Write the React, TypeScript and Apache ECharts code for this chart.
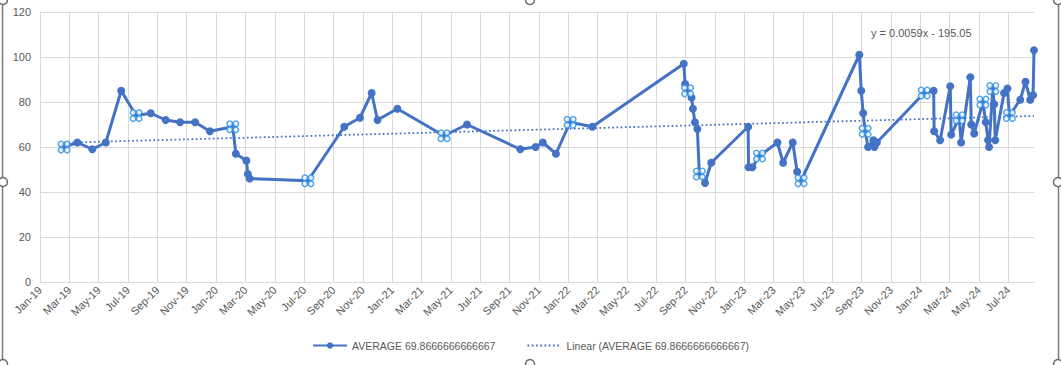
import { useEffect, useRef } from 'react';
import * as echarts from 'echarts';

const dates = [
  '2019-02-19', '2019-03-18', '2019-04-18', '2019-05-16', '2019-06-17', '2019-07-18', '2019-08-18', '2019-09-18',
  '2019-10-18', '2019-11-18', '2019-12-19', '2020-02-05', '2020-02-11', '2020-03-03', '2020-03-06', '2020-03-10',
  '2020-07-09', '2020-09-23', '2020-10-26', '2020-11-19', '2020-12-01', '2021-01-12', '2021-04-17', '2021-06-04',
  '2021-09-23', '2021-10-25', '2021-11-09', '2021-12-06', '2022-01-05', '2022-02-19', '2022-08-28', '2022-08-31',
  '2022-09-05', '2022-09-13', '2022-09-16', '2022-09-20', '2022-09-25', '2022-09-29', '2022-10-11', '2022-10-24',
  '2023-01-09', '2023-01-10', '2023-01-18', '2023-02-02', '2023-03-09', '2023-03-21', '2023-04-10', '2023-04-19',
  '2023-04-27', '2023-08-27', '2023-08-31', '2023-09-04', '2023-09-08', '2023-09-14', '2023-09-25', '2023-09-27',
  '2023-10-02', '2024-01-09', '2024-01-29', '2024-01-30', '2024-02-11', '2024-03-02', '2024-03-04', '2024-03-21',
  '2024-03-25', '2024-04-13', '2024-04-15', '2024-04-21', '2024-05-09', '2024-05-15', '2024-05-20', '2024-05-22',
  '2024-05-30', '2024-06-02', '2024-06-04', '2024-06-22', '2024-06-29', '2024-07-03', '2024-07-26', '2024-08-06',
  '2024-08-16', '2024-08-22', '2024-08-24',
];

const values = [
  60, 62, 59, 62, 85, 74, 75, 72,
  71, 71, 67, 69, 57, 54, 48, 46,
  45, 69, 73, 84, 72, 77, 65, 70,
  59, 60, 62, 57, 71, 69, 97, 88,
  85, 82, 77, 71, 68, 48, 44, 53,
  69, 51, 51, 56, 62, 53, 62, 49,
  45, 101, 85, 75, 67, 60, 63, 60,
  62, 84, 85, 67, 63, 87, 65.5, 73,
  62, 91, 70, 66, 80, 71, 63, 60,
  86, 79, 63, 84, 86, 74, 81, 89,
  81, 83, 103,
];

// points shown with Excel's selection handles
const selectedDates = [
  '2019-02-19', '2019-07-18', '2020-02-05', '2020-07-09', '2021-04-17', '2022-01-05', '2022-09-05', '2022-09-29',
  '2023-02-02', '2023-04-27', '2023-09-08', '2024-01-09', '2024-03-21', '2024-05-09', '2024-05-30', '2024-07-03',
];

const monthNames = ['Jan', 'Feb', 'Mar', 'Apr', 'May', 'Jun', 'Jul', 'Aug', 'Sep', 'Oct', 'Nov', 'Dec'];
const trendStartValue = 61.9;
const trendEndValue = 73.8;
const seriesName = 'AVERAGE 69.8666666666667';
const trendName = 'Linear (AVERAGE 69.8666666666667)';
const trendLabel = 'y = 0.0059x - 195.05';

function toMonthCoord(s: string): number {
  const [y, m, d] = s.split('-').map(Number);
  const dim = new Date(Date.UTC(y, m, 0)).getUTCDate();
  return (y - 2019) * 12 + (m - 1) + (d - 1) / dim;
}

const FONT = 'Liberation Sans';
const BLUE = '#4472C4';
const GREY_TEXT = '#595959';

export default function App() {
  const ref = useRef<HTMLDivElement>(null);
  useEffect(() => {
    if (!ref.current) return;
    const chart = echarts.init(ref.current, null, { renderer: 'svg' });
    const mainData = dates.map((d, i) => [toMonthCoord(d), values[i]]);
    const selData = selectedDates.map((d) => {
      const i = dates.indexOf(d);
      return [toMonthCoord(d), values[i]];
    });
    const trendData = [
      [toMonthCoord(dates[0]), trendStartValue],
      [toMonthCoord(dates[dates.length - 1]), trendEndValue],
    ];
    const offsets = [[-3, -3], [3, -3], [-3, 3], [3, 3]];
    const handleSeries = offsets.map((off) => ({
      type: 'scatter',
      name: 'handle',
      data: selData,
      symbol: 'circle',
      symbolSize: 5.5,
      symbolOffset: off,
      itemStyle: { color: '#ffffff', borderColor: '#2A8FE3', borderWidth: 1.6 },
      z: 5,
      silent: true,
    }));
    const handleCircle = (x: number, y: number) => ({
      type: 'circle',
      shape: { cx: x, cy: y, r: 4.5 },
      style: { fill: '#ffffff', stroke: '#6b6b6b', lineWidth: 1.5 },
      z: 100,
    });
    chart.setOption({
      animation: false,
      backgroundColor: '#ffffff',
      grid: { left: 40, right: 27, top: 12, bottom: 83, containLabel: false },
      xAxis: {
        type: 'value',
        min: 0,
        max: 'dataMax',
        interval: 2,
        axisLine: { show: true, lineStyle: { color: '#D9D9D9', width: 1 } },
        axisTick: { show: false },
        splitLine: { show: true, showMaxLine: false, lineStyle: { color: '#D9D9D9', width: 1 } },
        axisLabel: {
          rotate: 45,
          showMaxLabel: false,
          margin: 6,
          color: GREY_TEXT,
          fontFamily: FONT,
          fontSize: 11,
          formatter: (v: number) => {
            const k = Math.round(v);
            return monthNames[k % 12] + '-' + String(19 + Math.floor(k / 12));
          },
        },
      },
      yAxis: {
        type: 'value',
        min: 0,
        max: 120,
        interval: 20,
        axisLine: { show: false },
        axisTick: { show: false },
        splitLine: { show: true, lineStyle: { color: '#D9D9D9', width: 1 } },
        axisLabel: { color: GREY_TEXT, fontFamily: FONT, fontSize: 11, margin: 9 },
      },
      legend: {
        bottom: 9,
        left: 'center',
        data: [
          { name: seriesName },
          { name: trendName, itemStyle: { opacity: 0, borderWidth: 0 } },
        ],
        itemWidth: 34,
        itemHeight: 8,
        itemGap: 31,
        textStyle: { color: GREY_TEXT, fontFamily: FONT, fontSize: 10.5, padding: [0, 0, 0, 0] },
      },
      series: [
        {
          type: 'line',
          name: trendName,
          data: trendData,
          showSymbol: false,
          symbol: 'none',
          lineStyle: { color: BLUE, width: 1.75, type: [1.75, 2.5] },
          itemStyle: { color: BLUE },
          z: 2,
          silent: true,
        },
        {
          type: 'line',
          name: seriesName,
          data: mainData,
          symbol: 'circle',
          symbolSize: 8,
          showAllSymbol: true,
          lineStyle: { color: BLUE, width: 3 },
          itemStyle: { color: BLUE },
          z: 3,
        },
        ...handleSeries,
      ],
      graphic: [
        {
          type: 'text',
          left: 871,
          top: 27,
          style: { text: trendLabel, fill: GREY_TEXT, font: `11px "${FONT}"` },
          z: 10,
        },
        { type: 'line', shape: { x1: 2.5, y1: 0, x2: 2.5, y2: 365 }, style: { stroke: '#7a7a7a', lineWidth: 1.5 }, z: 90 },
        { type: 'line', shape: { x1: 1058.5, y1: 0, x2: 1058.5, y2: 365 }, style: { stroke: '#7a7a7a', lineWidth: 1.5 }, z: 90 },
        handleCircle(3, 0),
        handleCircle(3, 182),
        handleCircle(3, 364),
        handleCircle(1058, 0),
        handleCircle(1058, 182),
        handleCircle(1058, 364),
        handleCircle(530, 0),
        handleCircle(530, 364),
      ],
    });
    return () => chart.dispose();
  }, []);
  return (
    <div
      ref={ref}
      style={{ position: 'absolute', left: 0, top: 0, width: 1061, height: 365, background: '#fff' }}
    />
  );
}
